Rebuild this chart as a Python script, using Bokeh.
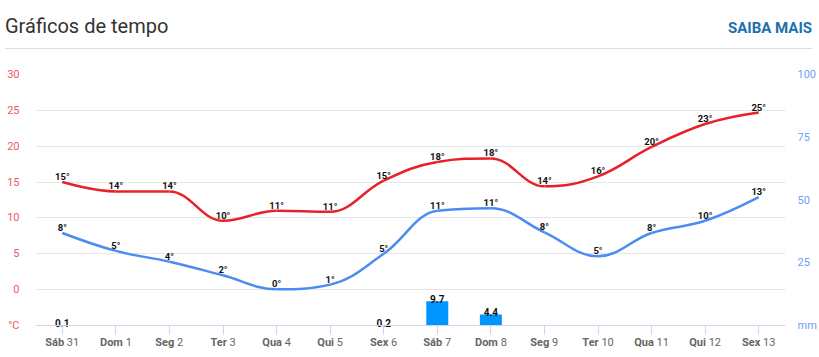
import math
from bokeh.plotting import figure
from bokeh.models import (ColumnDataSource, LinearAxis, Range1d, FixedTicker, Div)
from bokeh.layouts import column
from bokeh.core.properties import value
from bokeh.embed import file_html
from bokeh.resources import INLINE

# ---------------- data ----------------
days = ["Sáb", "Dom", "Seg", "Ter", "Qua", "Qui", "Sex",
        "Sáb", "Dom", "Seg", "Ter", "Qua", "Qui", "Sex"]
dates = ["31", "1", "2", "3", "4", "5", "6", "7", "8", "9", "10", "11", "12", "13"]
tmax = [15.0, 13.7, 13.7, 9.6, 11.0, 10.85, 15.2, 17.8, 18.3, 14.4, 15.8, 19.9, 23.1, 24.7]
tmin = [7.9, 5.4, 3.9, 2.0, 0.05, 0.7, 5.0, 11.0, 11.35, 8.0, 4.65, 7.9, 9.6, 12.9]
precip = [0.1, 0, 0, 0, 0, 0, 0.2, 9.7, 4.4, 0, 0, 0, 0, 0]
temp_ticks = [-5, 0, 5, 10, 15, 20, 25, 30]
grid_ticks = [0, 5, 10, 15, 20, 25, 30]
precip_ticks = [0, 25, 50, 75, 100]

FONT = "Roboto"
RED = "#e8202a"
BLUE = "#4a8cf2"
BAR = "#0096ff"

xs = list(range(len(days)))

# layout helpers: axis area (-5..30 °C, 0..100 mm) is 251 px tall; the frame
# extends EXT px below it so the category labels can sit inside the frame.
AX_PX = 251.0
EXT = 30.0
T_LO, T_HI = -5.0, 30.0
P_LO, P_HI = 0.0, 100.0
t_bottom = T_LO - EXT * (T_HI - T_LO) / AX_PX
p_bottom = P_LO - EXT * (P_HI - P_LO) / AX_PX


def spline_segments(x, y, smoothing=1.5):
    """Highcharts-style spline: returns bezier segment arrays."""
    n = len(x)
    denom = smoothing + 1
    lc = [(x[i], y[i]) for i in range(n)]
    rc = [(x[i], y[i]) for i in range(n)]
    for i in range(1, n - 1):
        px, py = x[i], y[i]
        lx, ly = x[i - 1], y[i - 1]
        nx, ny = x[i + 1], y[i + 1]
        lcx = (smoothing * px + lx) / denom
        lcy = (smoothing * py + ly) / denom
        rcx = (smoothing * px + nx) / denom
        rcy = (smoothing * py + ny) / denom
        if rcx != lcx:
            corr = ((rcy - lcy) * (rcx - px)) / (rcx - lcx) + py - rcy
            lcy += corr
            rcy += corr
        if lcy > ly and lcy > py:
            lcy = max(ly, py)
            rcy = 2 * py - lcy
        elif lcy < ly and lcy < py:
            lcy = min(ly, py)
            rcy = 2 * py - lcy
        if rcy > ny and rcy > py:
            rcy = max(ny, py)
            lcy = 2 * py - rcy
        elif rcy < ny and rcy < py:
            rcy = min(ny, py)
            lcy = 2 * py - rcy
        lc[i] = (lcx, lcy)
        rc[i] = (rcx, rcy)
    seg = dict(x0=[], y0=[], x1=[], y1=[], cx0=[], cy0=[], cx1=[], cy1=[])
    for i in range(1, n):
        seg["x0"].append(x[i - 1]); seg["y0"].append(y[i - 1])
        seg["x1"].append(x[i]); seg["y1"].append(y[i])
        seg["cx0"].append(rc[i - 1][0]); seg["cy0"].append(rc[i - 1][1])
        seg["cx1"].append(lc[i][0]); seg["cy1"].append(lc[i][1])
    return seg


def deg(v):
    return f"{int(math.floor(v + 0.5))}°"


# ---------------- header ----------------
header = Div(
    text=(
        '<div style="position:relative;width:819px;height:50px;font-family:Roboto,sans-serif;">'
        '<span style="position:absolute;left:5px;top:12px;font-size:20px;color:#333333;'
        'white-space:nowrap;">Gráficos de tempo</span>'
        '<span style="position:absolute;right:7px;top:18px;font-size:15px;font-weight:bold;'
        'color:#1c70ad;white-space:nowrap;">SAIBA MAIS</span>'
        '<div style="position:absolute;left:5px;right:7px;top:48px;height:1px;background:#dddddd;"></div>'
        '</div>'
    ),
    width=819, height=50, margin=(0, 0, 0, 0),
)

# ---------------- chart ----------------
p = figure(width=819, height=307, output_backend="svg", toolbar_location=None,
           x_range=Range1d(-0.5, len(days) - 0.5), y_range=Range1d(t_bottom, T_HI),
           x_axis_location=None,
           min_border_left=35, min_border_right=29, min_border_top=24, min_border_bottom=2,
           margin=(0, 0, 0, 0))
p.outline_line_color = None
p.background_fill_color = "white"
p.border_fill_color = "white"
p.extra_y_ranges = {"precip": Range1d(p_bottom, P_HI)}

# grid
p.xgrid.grid_line_color = None
p.ygrid.ticker = FixedTicker(ticks=grid_ticks)
p.ygrid.grid_line_color = "#e6e6e6"

# left axis
ya = p.yaxis[0]
ya.ticker = FixedTicker(ticks=temp_ticks)
ya.major_label_overrides = {-5: "°C"}
ya.axis_line_color = None
ya.major_tick_line_color = None
ya.minor_tick_line_color = None
ya.major_label_standoff = 10
ya.major_label_text_color = "#ef5a5f"
ya.major_label_text_font = FONT
ya.major_label_text_font_size = "11px"

# right axis
ra = LinearAxis(y_range_name="precip", ticker=FixedTicker(ticks=precip_ticks))
ra.major_label_overrides = {0: "mm"}
ra.axis_line_color = None
ra.major_tick_line_color = None
ra.minor_tick_line_color = None
ra.major_label_standoff = 6
ra.major_label_text_color = "#6aa3f5"
ra.major_label_text_font = FONT
ra.major_label_text_font_size = "11px"
p.add_layout(ra, "right")

# x axis line + ticks, fixed at the bottom of the temperature scale
xa = LinearAxis(fixed_location=T_LO, ticker=FixedTicker(ticks=xs))
xa.major_label_overrides = {i: "" for i in xs}
xa.axis_line_color = "#ccd6eb"
xa.major_tick_line_color = "#ccd6eb"
xa.major_tick_out = 9
xa.major_tick_in = 0
xa.minor_tick_line_color = None
xa.major_label_text_font_size = "0px"
xa.major_label_standoff = 0
p.add_layout(xa, "below")

# x labels: bold day + regular date, centred on the tick
BOLD_W = {"S": 0.60, "á": 0.54, "b": 0.56, "D": 0.65, "o": 0.57, "m": 0.87, "e": 0.54,
          "g": 0.56, "T": 0.60, "r": 0.35, "Q": 0.69, "u": 0.56, "a": 0.54, "i": 0.26, "x": 0.51}
fs = 11.0
day_off, num_off = [], []
for d, n in zip(days, dates):
    wd = sum(BOLD_W.get(c, 0.55) for c in d) * fs
    wn = len(n) * 0.562 * fs
    sp = 0.248 * fs
    tot = wd + sp + wn
    day_off.append(wd - tot / 2)
    num_off.append(wd + sp - tot / 2)

xl_src = ColumnDataSource(dict(x=xs, y=[T_LO] * len(xs), day=days, num=dates,
                               doff=day_off, noff=num_off))
p.text(x="x", y="y", text="day", source=xl_src, x_offset="doff", y_offset=16.5,
       text_align="right", text_baseline="alphabetic", text_font=value(FONT),
       text_font_size="11px", text_font_style="bold", text_color="#666666")
p.text(x="x", y="y", text="num", source=xl_src, x_offset="noff", y_offset=16.5,
       text_align="left", text_baseline="alphabetic", text_font=value(FONT),
       text_font_size="11px", text_color="#666666")

# precipitation bars
bar_src = ColumnDataSource(dict(x=xs, top=precip))
p.vbar(x="x", top="top", bottom=0, width=0.41, source=bar_src, y_range_name="precip",
       fill_color=BAR, line_color=None)
pl = [(i, v) for i, v in zip(xs, precip) if v > 0]
p.text(x=[i for i, _ in pl], y=[v for _, v in pl], text=[f"{v:.1f}" for _, v in pl],
       y_range_name="precip", y_offset=-2, text_align="center", text_baseline="alphabetic",
       text_font=value(FONT), text_font_size="10px", text_font_style="bold", text_color="#111111")

# temperature splines
for series, col in ((tmax, RED), (tmin, BLUE)):
    seg = spline_segments(xs, series)
    p.bezier(source=ColumnDataSource(seg), x0="x0", y0="y0", x1="x1", y1="y1",
             cx0="cx0", cy0="cy0", cx1="cx1", cy1="cy1", line_color=col, line_width=2.5)
    p.text(x=xs, y=series, text=[deg(v) for v in series], y_offset=-5.5,
           text_align="center", text_baseline="alphabetic", text_font=value(FONT),
           text_font_size="9.5px", text_font_style="bold", text_color="#111111")

layout = column(header, p, spacing=0, margin=(0, 0, 0, 0))
open("out.html", "w").write(file_html(layout, INLINE))
